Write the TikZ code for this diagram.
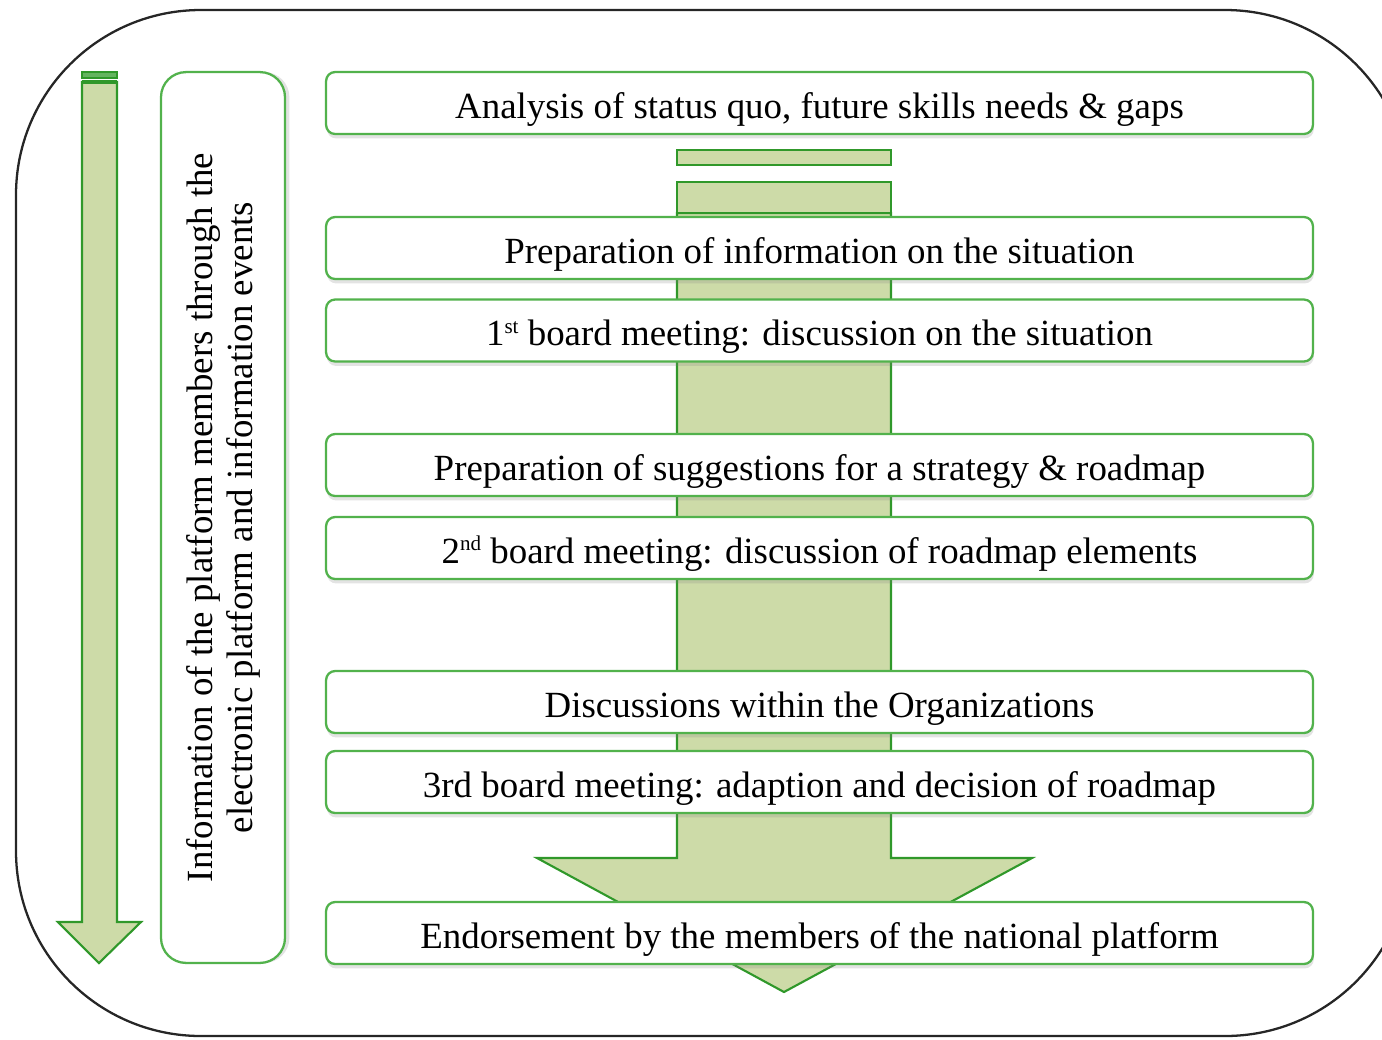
\documentclass[tikz,border=0pt]{standalone}
\usepackage{fontspec}
\setmainfont{Liberation Serif}
\usetikzlibrary{shadows}
\definecolor{boxline}{RGB}{82,178,76}
\definecolor{arrowfill}{RGB}{205,219,168}
\definecolor{arrowline}{RGB}{48,152,42}
\definecolor{capband}{RGB}{100,180,95}
\tikzset{
  stepbox/.style={draw=boxline, line width=1.3pt, fill=white, rounded corners=0.18cm,
    minimum width=19.74cm, minimum height=1.24cm, inner sep=0pt,
    text height=20.5pt, text depth=3pt,
    drop shadow={opacity=0.22, shadow xshift=0.5pt, shadow yshift=-2.5pt},
    font=\fontsize{21}{24}\selectfont},
  sidebox/.style={draw=boxline, line width=1.3pt, fill=white, rounded corners=0.5cm,
    minimum width=17.82cm, minimum height=2.48cm, inner sep=0pt, rotate=90,
    align=center, drop shadow={opacity=0.22, shadow xshift=2.5pt, shadow yshift=0pt},
    font=\fontsize{21}{22.7}\selectfont},
  bigarrow/.style={fill=arrowfill, draw=arrowline, line width=1.2pt, line join=miter},
  capbar/.style={fill=arrowfill, draw=arrowline, line width=1.2pt},
  frame/.style={draw=black!85, line width=1.3pt, rounded corners=3.7cm}
}
\newcommand{\ordsup}[1]{\raisebox{0.75ex}{\fontsize{12}{12}\selectfont #1}}
\begin{document}
\begin{tikzpicture}[x=0.02cm, y=-0.02cm]
  \useasboundingbox (0,0) rectangle (1382,1039);
  \begin{scope}
    \clip (0,0) rectangle (1382,1039);
    \draw[frame] (16,10) rectangle (1410,1036);
  \end{scope}

  % left timeline arrow
  \draw[fill=capband, draw=arrowline, line width=0.8pt] (82,72) rectangle (117,78);
  \draw[bigarrow] (82,82) -- (117,82) -- (117,922) -- (141,922) -- (99,963)
    -- (58,922) -- (82,922) -- cycle;
  \draw[arrowline, line width=2pt] (82,82) -- (117,82);

  % side information box
  \node[sidebox] (info) at (223,517.5)
    {Information of the platform members through the\\
     electronic platform and information events};

  % central process arrow
  \draw[bigarrow] (677,213) -- (891,213) -- (891,858) -- (1032,858) -- (784,992)
    -- (537,858) -- (677,858) -- cycle;
  \draw[capbar] (677,150) rectangle (891,165);
  \draw[capbar] (677,182) rectangle (891,213);

  % process steps
  \node[stepbox] (s1) at (819.5,103) {Analysis of status quo, future skills needs \& gaps};
  \node[stepbox] (s2) at (819.5,248) {Preparation of information on the situation};
  \node[stepbox] (s3) at (819.5,330.5) {1\ordsup{st} board meeting: discussion on the situation};
  \node[stepbox] (s4) at (819.5,465) {Preparation of suggestions for a strategy \& roadmap};
  \node[stepbox] (s5) at (819.5,548) {2\ordsup{nd} board meeting: discussion of roadmap elements};
  \node[stepbox] (s6) at (819.5,702) {Discussions within the Organizations};
  \node[stepbox] (s7) at (819.5,782) {3rd board meeting: adaption and decision of roadmap};
  \node[stepbox] (s8) at (819.5,933) {Endorsement by the members of the national platform};
\end{tikzpicture}
\end{document}
